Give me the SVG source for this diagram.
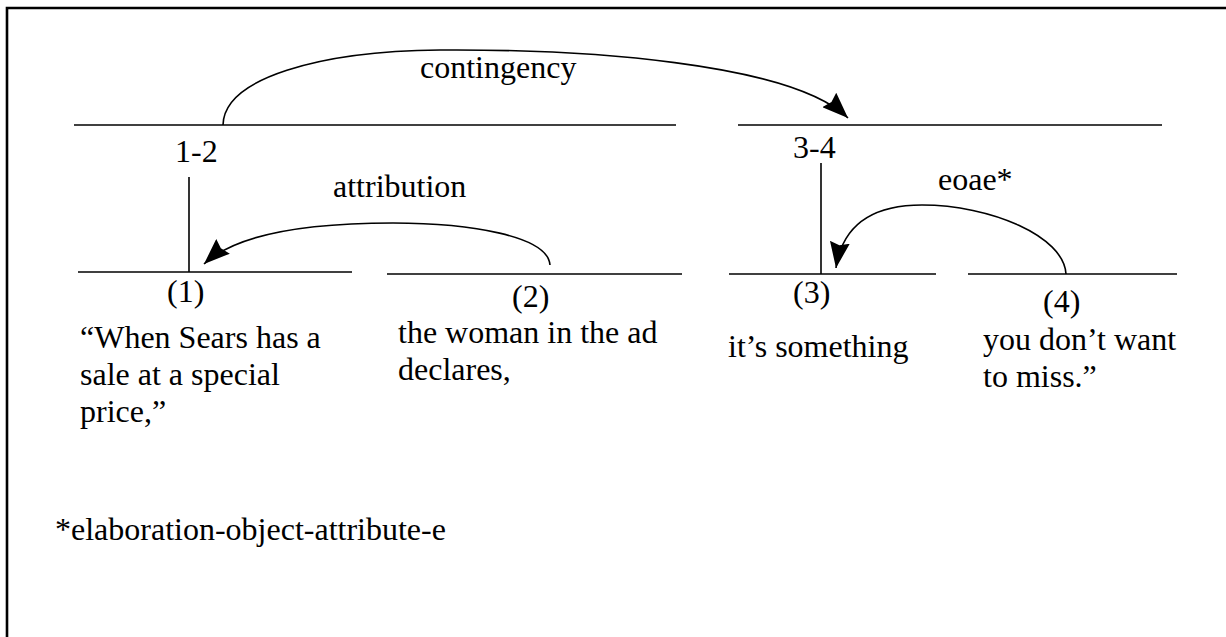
<svg xmlns="http://www.w3.org/2000/svg" width="1226" height="637" viewBox="0 0 1226 637">
<style>
text{font-family:"Liberation Serif","Times New Roman",serif;font-size:32px;fill:#000}
.ln{stroke:#000;stroke-width:1.6;fill:none}
.arc{stroke:#000;stroke-width:1.6;fill:none;marker-end:url(#ah)}
</style>
<defs>
<marker id="ah" markerUnits="userSpaceOnUse" markerWidth="28" markerHeight="20" viewBox="0 0 28 20" refX="26" refY="10" orient="auto">
<path d="M0,0 L26,10 L0,20 L3,10 Z" fill="#000"/>
</marker>
</defs>
<rect width="1226" height="637" fill="#fff"/>
<path d="M7,640 V8 H1230" fill="none" stroke="#000" stroke-width="2.6"/>
<g id="span-1-2">
<line class="ln" x1="74" y1="125" x2="676" y2="125"/>
<text x="175" y="162">1-2</text>
</g>
<g id="span-3-4">
<line class="ln" x1="738" y1="125" x2="1162" y2="125"/>
<text x="793" y="158">3-4</text>
</g>
<g id="unit-1">
<line class="ln" x1="78" y1="272" x2="352" y2="272"/>
<text x="167" y="302">(1)</text>
<text x="80" y="348">“When Sears has a</text>
<text x="80" y="385">sale at a special</text>
<text x="80" y="422">price,”</text>
</g>
<g id="unit-2">
<line class="ln" x1="387" y1="274" x2="682" y2="274"/>
<text x="512" y="307">(2)</text>
<text x="398" y="343">the woman in the ad</text>
<text x="398" y="380">declares,</text>
</g>
<g id="unit-3">
<line class="ln" x1="729" y1="274" x2="936" y2="274"/>
<text x="793" y="303">(3)</text>
<text x="728" y="357">it’s something</text>
</g>
<g id="unit-4">
<line class="ln" x1="968" y1="274" x2="1177" y2="274"/>
<text x="1043" y="312">(4)</text>
<text x="983" y="350">you don’t want</text>
<text x="983" y="387">to miss.”</text>
</g>
<g id="connectors">
<line class="ln" x1="189" y1="177" x2="189" y2="272"/>
<line class="ln" x1="821" y1="163" x2="821" y2="274"/>
<path class="arc" d="M223,125 C224,78 320,51 440,50 C580,49 790,62 848,118"/>
<path class="arc" d="M550,265 C548,236 470,223 393,223 C290,223 232,238 204,264"/>
<path class="arc" d="M1066,274 C1064,236 990,205 922,205 C868,205 842,228 836,268"/>
<text x="420" y="78">contingency</text>
<text x="333" y="197">attribution</text>
<text x="938" y="190">eoae*</text>
</g>
<g id="footnote">
<text x="55" y="540">*elaboration-object-attribute-e</text>
</g>
</svg>
